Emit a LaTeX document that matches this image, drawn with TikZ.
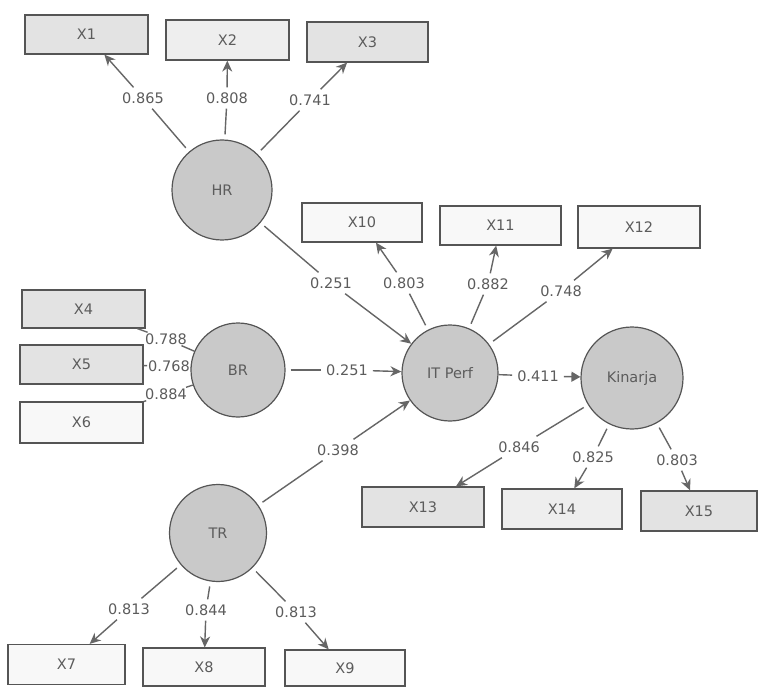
\documentclass[tikz,border=0pt]{standalone}
\usepackage{fontspec}
\setmainfont{DejaVu Sans}
\usetikzlibrary{arrows.meta}
\definecolor{txt}{HTML}{5C5C5C}
\definecolor{edgec}{HTML}{666666}
\definecolor{circfill}{HTML}{C9C9C9}
\definecolor{boxshade}{HTML}{E3E3E3}
\definecolor{boxplain}{HTML}{F8F8F8}
\definecolor{rim}{HTML}{555555}
\begin{document}
\begin{tikzpicture}[x=1pt,y=-1pt,
  font=\fontsize{14.5}{17}\selectfont,
  latent/.style={circle, draw=rim, line width=1.2pt, fill=circfill, inner sep=0pt, text=txt},
  ind/.style={rectangle, draw=rim, line width=1.2pt, fill=boxshade, inner sep=0pt, text=txt},
  indw/.style={ind, fill=boxplain},
  lbl/.style={inner sep=5pt, text=txt},
  lbls/.style={inner sep=1pt, text=txt},
  conn/.style={draw=edgec, line width=1.4pt},
  fromc/.style={conn, shorten <=5pt},
  arr/.style={conn, -{Stealth[length=11pt,width=10pt,inset=3.5pt]}},
  arrt/.style={conn, -{Triangle[length=9pt,width=10pt]}}]
\useasboundingbox (0,0) rectangle (758,687);
\fill[white] (0,0) rectangle (758,687);

% indicator boxes
\node[ind,  minimum width=123pt, minimum height=39pt] (X1)  at (86.5,34.5) {X1};
\node[ind,  minimum width=123pt, minimum height=40pt, fill=boxshade!60!white] (X2)  at (227.5,40) {X2};
\node[ind,  minimum width=121pt, minimum height=40pt] (X3)  at (367.5,42) {X3};
\node[ind,  minimum width=123pt, minimum height=38pt] (X4)  at (83.5,309) {X4};
\node[ind,  minimum width=123pt, minimum height=39pt] (X5)  at (81.5,364.5) {X5};
\node[indw, minimum width=123pt, minimum height=41pt] (X6)  at (81.5,422.5) {X6};
\node[indw, minimum width=117pt, minimum height=40pt] (X7)  at (66.5,664.5) {X7};
\node[indw, minimum width=122pt, minimum height=38pt] (X8)  at (204,667) {X8};
\node[indw, minimum width=120pt, minimum height=36pt] (X9)  at (345,668) {X9};
\node[indw, minimum width=120pt, minimum height=39pt] (X10) at (362,222.5) {X10};
\node[indw, minimum width=121pt, minimum height=39pt] (X11) at (500.5,225.5) {X11};
\node[indw, minimum width=122pt, minimum height=42pt] (X12) at (639,227) {X12};
\node[ind,  minimum width=122pt, minimum height=40pt] (X13) at (423,507) {X13};
\node[ind,  minimum width=120pt, minimum height=40pt, fill=boxshade!60!white] (X14) at (562,509) {X14};
\node[ind,  minimum width=116pt, minimum height=40pt] (X15) at (699,511) {X15};

% latent variables
\node[latent, minimum size=100pt] (HR)  at (222,190) {HR};
\node[latent, minimum size=94pt]  (BR)  at (238,370) {BR};
\node[latent, minimum size=96pt]  (IT)  at (450,373) {IT Perf};
\node[latent, minimum size=102pt] (Kin) at (632,378) {Kinarja};
\node[latent, minimum size=97pt]  (TR)  at (218,533) {TR};

% loading labels
\node[lbl] (l1)  at (143,98)  {0.865};
\node[lbl] (l2)  at (227,98)  {0.808};
\node[lbl] (l3)  at (310,100) {0.741};
\node[lbls] (l4) at (166,339) {0.788};
\node[lbls] (l5) at (169,366) {0.768};
\node[lbls] (l6) at (166,394) {0.884};
\node[lbl] (l7)  at (129,609) {0.813};
\node[lbl] (l8)  at (206,610) {0.844};
\node[lbl] (l9)  at (296,612) {0.813};
\node[lbl] (l10) at (404,283) {0.803};
\node[lbl] (l11) at (488,284) {0.882};
\node[lbl] (l12) at (561,291) {0.748};
\node[lbl] (l13) at (519,447) {0.846};
\node[lbl] (l14) at (593,457) {0.825};
\node[lbl] (l15) at (677,460) {0.803};
% path labels
\node[lbl] (p1) at (331,283) {0.251};
\node[lbl] (p2) at (347,370) {0.251};
\node[lbl] (p3) at (338,450) {0.398};
\node[lbl] (p4) at (538,376) {0.411};

% HR loadings
\draw[fromc] (HR) -- (l1); \draw[arr] (l1) -- (X1);
\draw[fromc] (HR) -- (l2); \draw[arr] (l2) -- (X2);
\draw[fromc] (HR) -- (l3); \draw[arr] (l3) -- (X3);
% BR loadings
\draw[conn] (BR) -- (l4); \draw[conn] (l4) -- (X4);
\draw[conn] (BR) -- (l5); \draw[conn] (l5) -- (X5);
\draw[conn] (BR) -- (l6); \draw[conn] (l6) -- (X6);
% TR loadings
\draw[fromc] (TR) -- (l7); \draw[arr] (l7) -- (X7);
\draw[fromc] (TR) -- (l8); \draw[arr] (l8) -- (X8);
\draw[fromc] (TR) -- (l9); \draw[arr] (l9) -- (X9);
% IT Perf loadings
\draw[fromc] (IT) -- (l10); \draw[arr] (l10) -- (X10);
\draw[fromc] (IT) -- (l11); \draw[arr] (l11) -- (X11);
\draw[fromc] (IT) -- (l12); \draw[arr] (l12) -- (X12);
% Kinarja loadings
\draw[fromc] (Kin) -- (l13); \draw[arr] (l13) -- (X13);
\draw[fromc] (Kin) -- (l14); \draw[arr] (l14) -- (X14);
\draw[fromc] (Kin) -- (l15); \draw[arr] (l15) -- (X15);
% structural paths
\draw[fromc] (HR) -- (p1); \draw[arr] (p1) -- (IT);
\draw[fromc] (BR) -- (p2); \draw[arr] (p2) -- (IT);
\draw[fromc] (TR) -- (p3); \draw[arr] (p3) -- (IT);
\draw[conn] (IT) -- (p4); \draw[arrt] (p4) -- (Kin);
\end{tikzpicture}
\end{document}
